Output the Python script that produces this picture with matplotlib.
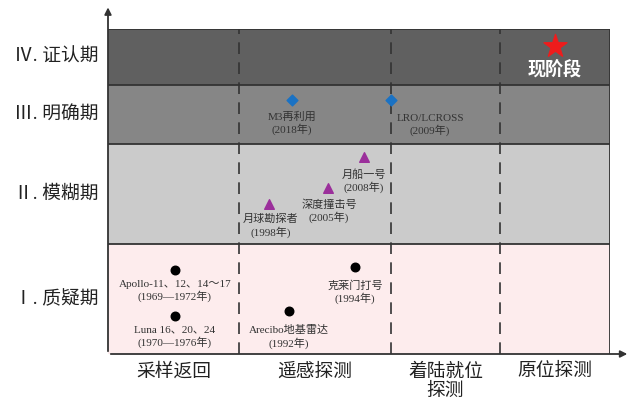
import matplotlib
matplotlib.use("Agg")
import matplotlib.pyplot as plt
from matplotlib.patches import Rectangle

plt.rcParams["font.family"] = ["Liberation Serif", "Noto Sans CJK SC", "DejaVu Sans"]

# ---------- data ----------
col_edges = [0, 1.31, 2.83, 3.92, 5.02]
col_labels = ["采样返回", "遥感探测", "着陆就位\n探测", "原位探测"]

stage_edges = [0, 1.10, 2.10, 2.69, 3.25]
stage_labels = ["Ⅰ. 质疑期", "Ⅱ. 模糊期", "Ⅲ. 明确期", "Ⅳ. 证认期"]
stage_colors = ["#fdeced", "#cbcbcb", "#868686", "#606060"]

# stage I (circles)
circ_x = [0.67, 0.67, 1.81, 2.47]
circ_y = [0.84, 0.38, 0.43, 0.87]
circ_txt = ["Apollo-11、12、14～17\n(1969—1972年)", "Luna 16、20、24\n(1970—1976年)",
            "Arecibo地基雷达\n(1992年)", "克莱门打号\n(1994年)"]

# stage II (triangles)
tri_x = [1.61, 2.20, 2.56]
tri_y = [1.50, 1.66, 1.97]
tri_txt = ["月球勘探者\n(1998年)", "深度撞击号\n(2005年)", "月船一号\n(2008年)"]

# stage III (diamonds)
dia_x = [1.84, 2.83]
dia_y = [2.54, 2.54]
dia_txt = ["M3再利用\n(2018年)", "LRO/LCROSS\n(2009年)"]

# current stage
star_x, star_y = 4.47, 3.08

fig = plt.figure(figsize=(6.32, 4.03), dpi=100)
ax = fig.add_axes([108 / 632, 49 / 403, 502 / 632, 325 / 403])
ax.set_xlim(col_edges[0], col_edges[-1])
ax.set_ylim(stage_edges[0], stage_edges[-1])
ax.axis("off")

edge = "#333333"
for i, c in enumerate(stage_colors):
    ax.add_patch(Rectangle((col_edges[0], stage_edges[i]), col_edges[-1] - col_edges[0],
                           stage_edges[i + 1] - stage_edges[i], facecolor=c,
                           edgecolor="none", zorder=0))
for y in stage_edges[1:]:
    ax.plot([col_edges[0], col_edges[-1]], [y, y], color=edge, lw=1.3, zorder=1)
ax.plot([col_edges[-1], col_edges[-1]], [stage_edges[0], stage_edges[-1]], color=edge, lw=1.3, zorder=1)
for x in col_edges[1:-1]:
    ax.plot([x, x], [stage_edges[0], stage_edges[-1]], color=edge, lw=1.2,
            dashes=(7, 5), zorder=1)

# axes with arrows
ax.annotate("", xy=(0, 1.075), xytext=(0, 0), xycoords="axes fraction",
            arrowprops=dict(arrowstyle="-|>", color=edge, lw=1.3, mutation_scale=10),
            annotation_clip=False)
ax.annotate("", xy=(1.04, 0), xytext=(0, 0), xycoords="axes fraction",
            arrowprops=dict(arrowstyle="-|>", color=edge, lw=1.3, mutation_scale=10),
            annotation_clip=False)

# stage labels
for i, lab in enumerate(stage_labels):
    yc = (stage_edges[i] + stage_edges[i + 1]) / 2
    ax.text(-0.52, yc, lab, ha="center", va="center", fontsize=13.5, color="#222222")

# column labels
for i, lab in enumerate(col_labels):
    xc = (col_edges[i] + col_edges[i + 1]) / 2
    ax.text(xc, -0.09, lab, ha="center", va="top", fontsize=13.5, color="#222222",
            linespacing=1.15)

txt_kw = dict(fontsize=8, color="#333333", ha="center", va="center", linespacing=1.2)

ax.scatter(circ_x, circ_y, s=38, marker="o", color="black", zorder=3)
circ_off = [(0, -0.21), (0, -0.21), (0, -0.26), (0, -0.25)]
for x, y, t, (dx, dy) in zip(circ_x, circ_y, circ_txt, circ_off):
    ax.text(x + dx, y + dy, t, **txt_kw)

ax.scatter(tri_x, tri_y, s=48, marker="^", color="#9b2f9b", zorder=3)
tri_off = [(0.02, -0.22), (0.01, -0.23), (0.0, -0.24)]
for x, y, t, (dx, dy) in zip(tri_x, tri_y, tri_txt, tri_off):
    ax.text(x + dx, y + dy, t, **txt_kw)

ax.scatter(dia_x, dia_y, s=30, marker="D", color="#1a72c4", zorder=3)
dia_off = [(0, -0.23), (0.39, -0.25)]
for x, y, t, (dx, dy) in zip(dia_x, dia_y, dia_txt, dia_off):
    ax.text(x + dx, y + dy, t, **txt_kw)

ax.scatter([star_x], [star_y], s=300, marker="*", color="#ee1c1c", zorder=3)
ax.text(star_x, star_y - 0.24, "现阶段", ha="center", va="center", fontsize=13,
        color="white", fontweight="bold")

fig.savefig("out.png", dpi=100, facecolor="white")
